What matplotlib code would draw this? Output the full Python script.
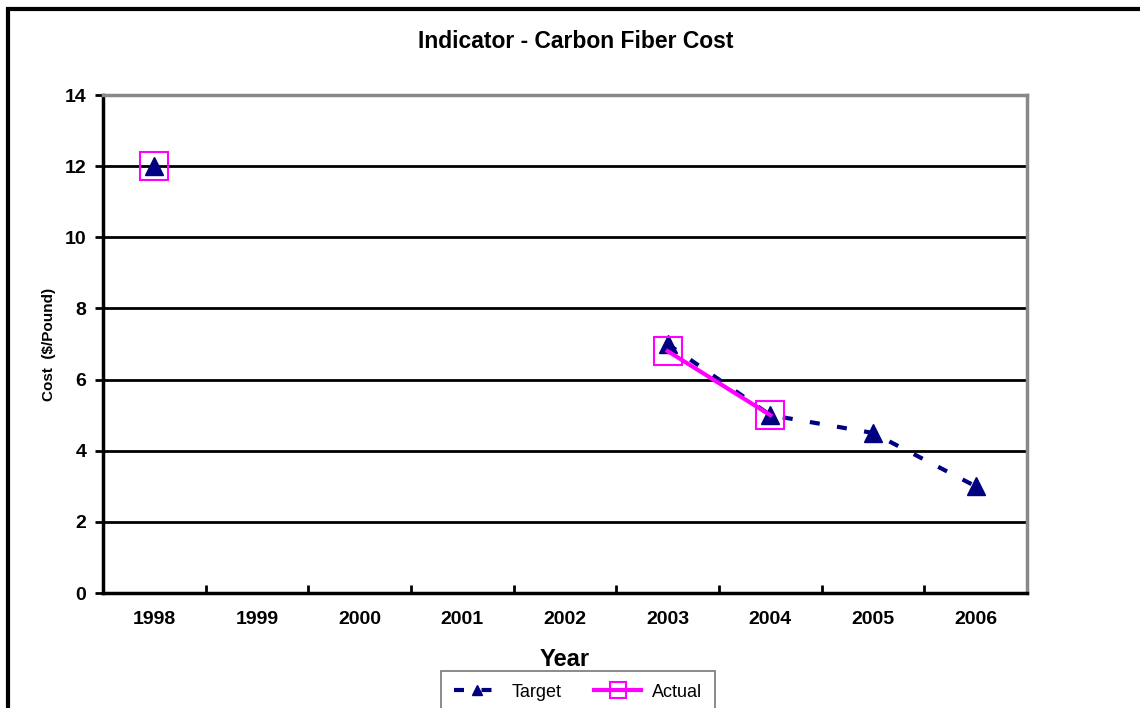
import matplotlib.pyplot as plt
import numpy as np
from matplotlib.patches import Rectangle

years = ["1998", "1999", "2000", "2001", "2002", "2003", "2004", "2005", "2006"]
target = [12, np.nan, np.nan, np.nan, np.nan, 7, 5, 4.5, 3]
actual = [12, np.nan, np.nan, np.nan, np.nan, 6.8, 5, np.nan, np.nan]
yticks = [0, 2, 4, 6, 8, 10, 12, 14]

plt.rcParams["font.family"] = ["Liberation Sans", "DejaVu Sans"]

fig = plt.figure(figsize=(11.4, 7.08), dpi=100)
ax = fig.add_axes([0.0904, 0.1624, 0.8105, 0.7034])

x = np.arange(len(years))
ax.plot(x, target, color="#000080", linestyle=(0, (2.4, 4.2)), linewidth=3,
        marker="^", markersize=13, label="Target", zorder=3)
ax.plot(x, actual, color="#ff00ff", linestyle="-", linewidth=3,
        marker="s", markersize=20, markerfacecolor="none",
        markeredgecolor="#ff00ff", markeredgewidth=1.5, label="Actual", zorder=4)

ax.set_xlim(-0.5, len(years) - 0.5)
ax.set_ylim(0, 14)
ax.set_yticks(yticks)
ax.set_yticklabels([str(v) for v in yticks], fontweight="bold", fontsize=14)
ax.set_xticks(x)
ax.set_xticklabels(years, fontweight="bold", fontsize=14)
ax.tick_params(axis="x", which="major", length=0, pad=13)
ax.set_xticks(np.arange(len(years)) + 0.5, minor=True)
ax.tick_params(axis="x", which="minor", direction="in", length=6, width=2)
ax.tick_params(axis="y", direction="out", length=6, width=2, pad=6)

for v in yticks[1:-1]:
    ax.axhline(v, color="black", linewidth=2, zorder=1)

ax.spines["left"].set_linewidth(2.5)
ax.spines["bottom"].set_linewidth(2.5)
ax.spines["top"].set_color("#888888")
ax.spines["right"].set_color("#888888")
ax.spines["top"].set_linewidth(2.5)
ax.spines["right"].set_linewidth(2.5)

# title is centred on the whole chart area, not on the plot area
fig.text(576 / 1140, 1 - 41 / 708, "Indicator - Carbon Fiber Cost",
         fontweight="bold", fontsize=16.5, ha="center", va="center")
ax.set_ylabel("Cost  ($/Pound)", fontweight="bold", fontsize=11, labelpad=6)
ax.set_xlabel("Year", fontweight="bold", fontsize=17, labelpad=14)

leg = ax.legend(loc="upper center", bbox_to_anchor=(0.514, -0.1566), ncol=2,
                frameon=True, fancybox=False, edgecolor="#555555",
                fontsize=13, handlelength=2.6, handletextpad=0.6,
                columnspacing=1.8, borderpad=0.7, borderaxespad=0,
                markerscale=0.55)
leg.get_frame().set_linewidth(1.2)

fig.patches.append(Rectangle((8 / 1140, -0.1), 1.2, 1 - 9 / 708 + 0.1,
                             transform=fig.transFigure, fill=False,
                             edgecolor="black", linewidth=3))

fig.savefig("out.png", dpi=100)
